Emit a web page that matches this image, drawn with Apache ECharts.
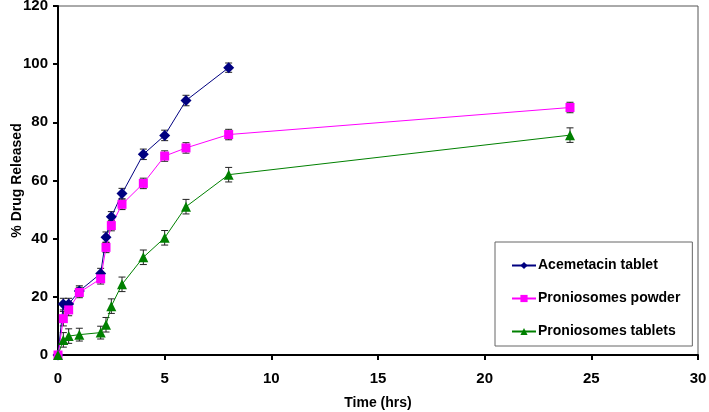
<!DOCTYPE html>
<html><head><meta charset="utf-8">
<script src="https://cdn.jsdelivr.net/npm/echarts@6/dist/echarts.min.js"></script>
<style>html,body{margin:0;padding:0;background:#fff}#c{width:709px;height:412px}</style>
</head><body><div id="c"></div>
<script>
var time = [0, 0.25, 0.5, 1, 2, 2.25, 2.5, 3, 4, 5, 6, 8];
var timeLong = [0, 0.25, 0.5, 1, 2, 2.25, 2.5, 3, 4, 5, 6, 8, 24];
var acemetacin = [0, 17.5, 17.5, 22, 28, 40.5, 47.5, 55.5, 69, 75.5, 87.5, 98.8];
var acemetacinErr = [0.5, 2, 2, 1.8, 1.8, 1.8, 1.8, 1.8, 1.8, 1.8, 1.8, 1.6];
var powder = [0, 12.5, 15.5, 21.5, 26.2, 37, 44.5, 51.8, 59, 68.4, 71.2, 75.8, 85.1];
var powderErr = [0.5, 2.5, 2, 1.8, 1.8, 1.8, 1.8, 1.8, 1.8, 1.8, 1.8, 1.8, 1.8];
var tablets = [0, 5.2, 6.5, 7, 7.7, 10.4, 16.8, 24.3, 33.6, 40.3, 51, 62, 75.6];
var tabletsErr = [0.5, 2.5, 2.5, 2.2, 2.2, 2.5, 2.5, 2.5, 2.5, 2.5, 2.5, 2.5, 2.5];
var names = ['Acemetacin tablet', 'Proniosomes powder', 'Proniosomes tablets'];
var colors = ['#000080', '#ff00ff', '#008000'];
var xTicks = [0, 5, 10, 15, 20, 25, 30];
var yTicks = [0, 20, 40, 60, 80, 100, 120];

function pairs(xs, ys) { return xs.map(function (x, i) { return [x, ys[i]]; }); }
function errData(xs, ys, es) { return xs.map(function (x, i) { return [x, ys[i] - es[i], ys[i] + es[i]]; }); }
function errRender(params, api) {
  var x = api.value(0);
  var lo = api.coord([x, api.value(1)]);
  var hi = api.coord([x, api.value(2)]);
  var w = 3.5;
  var st = { stroke: '#222', lineWidth: 1 };
  return { type: 'group', children: [
    { type: 'line', shape: { x1: lo[0], y1: lo[1], x2: hi[0], y2: hi[1] }, style: st },
    { type: 'line', shape: { x1: lo[0] - w, y1: lo[1], x2: lo[0] + w, y2: lo[1] }, style: st },
    { type: 'line', shape: { x1: hi[0] - w, y1: hi[1], x2: hi[0] + w, y2: hi[1] }, style: st }
  ]};
}
var font = '"Liberation Sans", Arial, sans-serif';
var series = [];
var datasets = [[time, acemetacin, acemetacinErr], [timeLong, powder, powderErr], [timeLong, tablets, tabletsErr]];
var symbols = ['diamond', 'rect', 'triangle'];
var sizes = [11, 9, 10];
datasets.forEach(function (d, k) {
  series.push({ type: 'custom', renderItem: errRender, data: errData(d[0], d[1], d[2]), z: 1, silent: true });
});
datasets.forEach(function (d, k) {
  series.push({ name: names[k], type: 'line', data: pairs(d[0], d[1]), symbol: symbols[k], symbolSize: sizes[k],
    showAllSymbol: true, z: 3,
    lineStyle: { color: colors[k], width: 1 }, itemStyle: { color: colors[k] } });
});
var chart = echarts.init(document.getElementById('c'));
chart.setOption({
  animation: false,
  backgroundColor: '#fff',
  grid: { left: 58, right: 11, top: 6, bottom: 57, containLabel: false, outerBoundsMode: 'none',
    show: true, borderColor: '#555', borderWidth: 1, backgroundColor: 'transparent' },
  legend: {
    data: names, orient: 'vertical', left: 495, top: 242, width: 195,
    backgroundColor: '#fff', borderColor: '#666', borderWidth: 1,
    padding: [15, 12, 6, 16], itemGap: 16, itemWidth: 24, itemHeight: 9,
    textStyle: { fontFamily: font, fontWeight: 'bold', fontSize: 14, color: '#000', lineHeight: 17, padding: [0, 0, 0, -3] }
  },
  xAxis: {
    type: 'value', min: 0, max: 30, interval: 5,
    name: 'Time (hrs)', nameLocation: 'middle', nameGap: 41,
    nameTextStyle: { fontFamily: font, fontWeight: 'bold', fontSize: 14, color: '#000' },
    axisLine: { lineStyle: { color: '#000', width: 2 } },
    axisTick: { show: true, inside: false, length: 5, lineStyle: { color: '#000', width: 2 } },
    axisLabel: { fontFamily: font, fontWeight: 'bold', fontSize: 15, color: '#000', margin: 16 },
    splitLine: { show: false }
  },
  yAxis: {
    type: 'value', min: 0, max: 120, interval: 20,
    name: '% Drug Released', nameLocation: 'middle', nameGap: 34, nameRotate: 90, nameMoveOverlap: false,
    nameTextStyle: { fontFamily: font, fontWeight: 'bold', fontSize: 14, color: '#000' },
    axisLine: { lineStyle: { color: '#000', width: 2 } },
    axisTick: { show: true, inside: false, length: 5, lineStyle: { color: '#000', width: 2 } },
    axisLabel: { fontFamily: font, fontWeight: 'bold', fontSize: 15, color: '#000', margin: 10 },
    splitLine: { show: false }
  },
  series: series
});
</script></body></html>
